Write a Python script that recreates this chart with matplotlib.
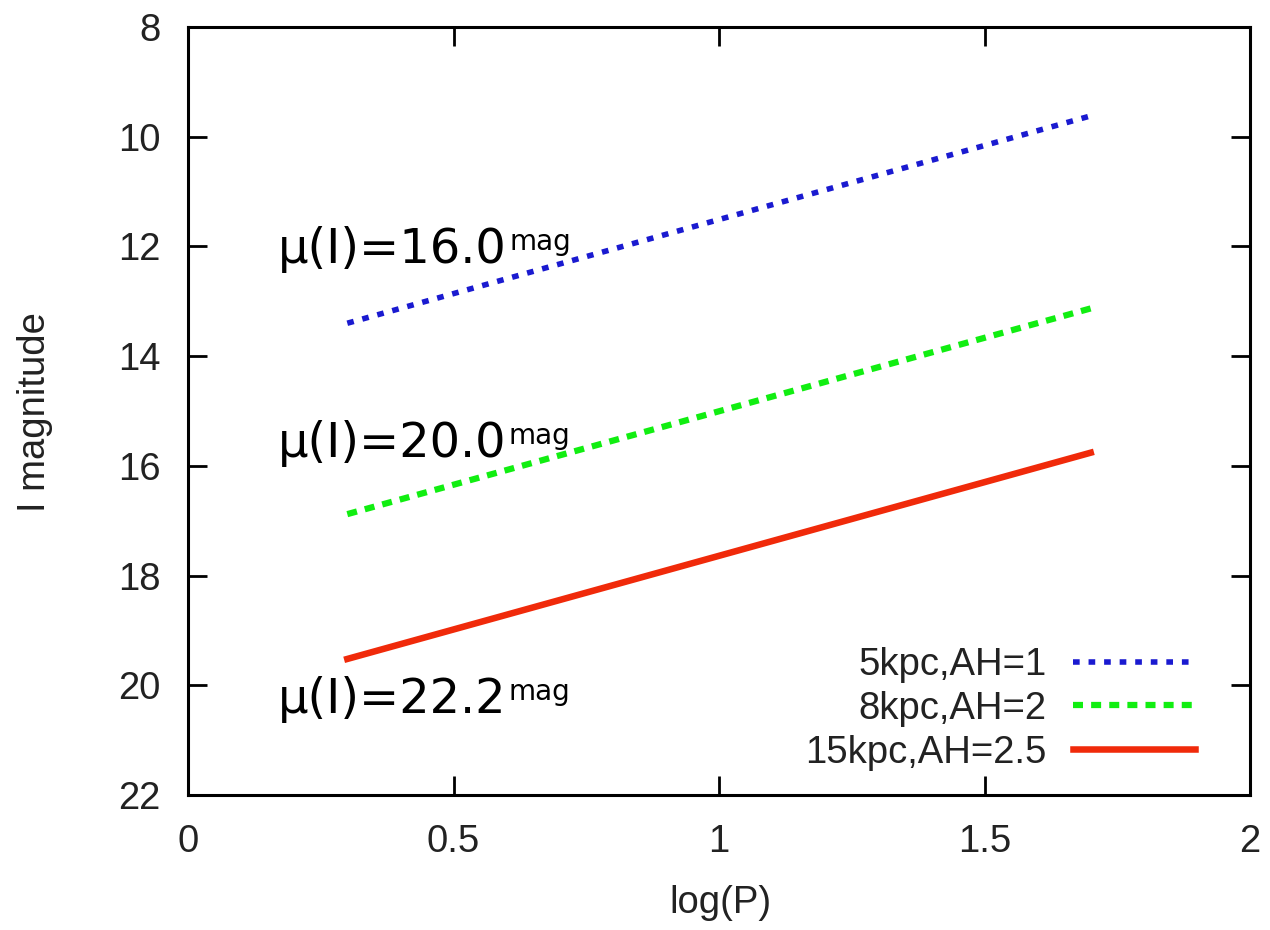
import matplotlib
matplotlib.use("Agg")
import matplotlib.pyplot as plt
import numpy as np

plt.rcParams['font.family'] = ['Liberation Sans', 'DejaVu Sans']

# Data
logP = [0.3, 1.7]
labels = ["5kpc,AH=1", "8kpc,AH=2", "15kpc,AH=2.5"]
mag_5kpc = [13.4, 9.62]
mag_8kpc = [16.88, 13.13]
mag_15kpc = [19.52, 15.76]
mu_labels = ["μ(I)=16.0", "μ(I)=20.0", "μ(I)=22.2"]
mu_sup = "mag"
mu_pos_x = [0.17, 0.17, 0.17]
mu_pos_y = [12.3, 15.83, 20.5]
xticks = [0, 0.5, 1, 1.5, 2]
yticks = [8, 10, 12, 14, 16, 18, 20, 22]

DPI = 100
fig = plt.figure(figsize=(12.7, 9.3), dpi=DPI)
ax = fig.add_axes([188/1270, 1-795/930, (1250-188)/1270, (795-27)/930])

tc = '#222222'
l1, = ax.plot(logP, mag_5kpc, color='#1a1ad0', lw=4.0, label=labels[0])
l1.set_dashes((1.2, 1.6))
l2, = ax.plot(logP, mag_8kpc, color='#11ee11', lw=4.5, label=labels[1])
l2.set_dashes((1.6, 1.3))
l3, = ax.plot(logP, mag_15kpc, color='#f02a0a', lw=4.7, label=labels[2])

ax.set_xlim(0, 2)
ax.set_ylim(22, 8)
ax.set_xticks(xticks)
ax.set_xticklabels([f"{v:g}" for v in xticks])
ax.set_yticks(yticks)
ax.set_yticklabels([f"{v:g}" for v in yticks])
ax.tick_params(direction='in', length=14, width=2, labelsize=27.5,
               labelcolor=tc, top=True, right=True)
ax.tick_params(axis='y', pad=20)
ax.tick_params(axis='x', pad=21)
for s in ax.spines.values():
    s.set_linewidth(2.2)

leg = ax.legend(loc='lower right', frameon=False, markerfirst=False,
                fontsize=27.5, handlelength=3.2, handletextpad=0.7,
                labelspacing=0.2, bbox_to_anchor=(0.963, 0.012),
                borderaxespad=0)
for t in leg.get_texts():
    t.set_color(tc)

fig.text(35/1270, 1-412/930, "I magnitude", rotation=90, ha='center',
         va='center', fontsize=27.5, color=tc)
fig.text(720/1270, 1-913/930, "log(P)", ha='center', va='baseline',
         fontsize=27.5, color=tc)

# main mu labels
mains = []
for t, x, y in zip(mu_labels, mu_pos_x, mu_pos_y):
    mains.append(ax.text(x, y, t, fontsize=34.5, color='black',
                         family=['DejaVu Sans'], ha='left', va='baseline'))

fig.canvas.draw()
renderer = fig.canvas.get_renderer()
inv = ax.transData.inverted()
for tobj, x, y in zip(mains, mu_pos_x, mu_pos_y):
    bb = tobj.get_window_extent(renderer)
    bx, by = ax.transData.transform((x, y))
    sx, sy = inv.transform((bb.x1 + 2, by + 13))
    ax.text(sx, sy, mu_sup, fontsize=20, color='black',
            family=['DejaVu Sans'], ha='left', va='baseline')

fig.savefig("out.png", dpi=DPI)
